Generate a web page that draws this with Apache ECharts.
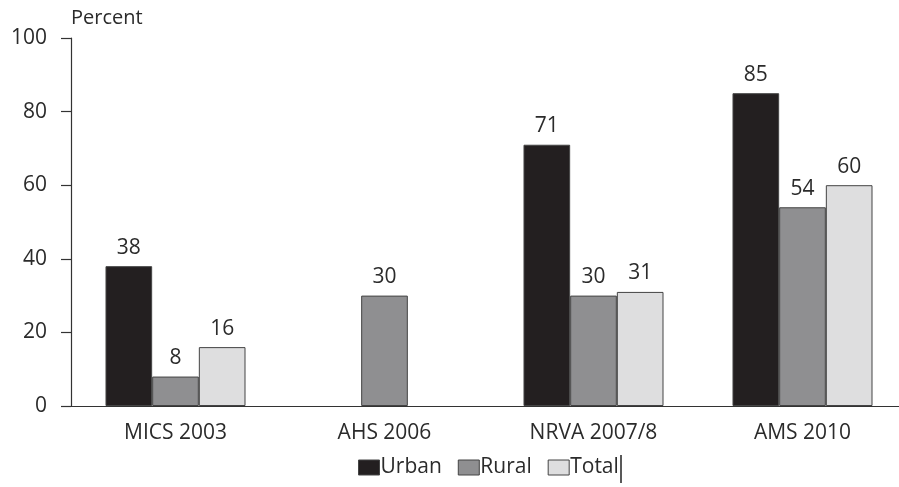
<!DOCTYPE html>
<html>
<head>
<meta charset="utf-8">
<script src="https://cdn.jsdelivr.net/npm/echarts@6/dist/echarts.min.js"></script>
<style>
  html, body { margin: 0; padding: 0; background: #fff; overflow: hidden; }
  #chart { width: 907px; height: 487px; }
</style>
</head>
<body>
<div id="chart"></div>
<script>
// Survey categories and access shares (percent)
const categories = ['MICS 2003', 'AHS 2006', 'NRVA 2007/8', 'AMS 2010'];
const urban = [38, null, 71, 85];
const rural = [8, 30, 30, 54];
const total = [16, null, 31, 60];
const yTicks = [0, 20, 40, 60, 80, 100];

const FONT = '"Open Sans", "DejaVu Sans", sans-serif';
const TEXT = '#2b2b2b';
const chart = echarts.init(document.getElementById('chart'), null, { renderer: 'canvas' });

function barSeries(name, data, color) {
  return {
    name: name,
    type: 'bar',
    data: data,
    barGap: '0%',
    barCategoryGap: '33%',
    itemStyle: { color: color, borderColor: '#444', borderWidth: 1 },
    label: {
      show: true,
      position: 'top',
      distance: 8,
      color: TEXT,
      fontFamily: FONT,
      fontSize: 21
    }
  };
}

chart.setOption({
  animation: false,
  grid: { left: 71, right: 0, top: 38, bottom: 81, containLabel: false },
  legend: {
    top: 457,
    left: 358,
    padding: 0,
    itemWidth: 21,
    itemHeight: 15,
    itemGap: 16,
    icon: 'rect',
    itemStyle: { borderColor: '#444', borderWidth: 1 },
    textStyle: { fontFamily: FONT, fontSize: 21, color: TEXT, padding: [0, 0, 0, -4] },
    data: ['Urban', 'Rural', 'Total']
  },
  xAxis: {
    type: 'category',
    data: categories,
    axisLine: { lineStyle: { color: '#333', width: 1.2 } },
    axisTick: { show: false },
    axisLabel: { fontFamily: FONT, fontSize: 21, color: TEXT, margin: 17 }
  },
  yAxis: {
    type: 'value',
    min: 0,
    max: 100,
    interval: 20,
    name: 'Percent',
    nameLocation: 'end',
    nameGap: 10,
    nameTextStyle: { fontFamily: FONT, fontSize: 20, color: TEXT, align: 'left', padding: [0, 0, 0, 0] },
    axisLine: { show: true, lineStyle: { color: '#333', width: 1.2 } },
    axisTick: { show: true, length: 10, lineStyle: { color: '#333', width: 1.2 } },
    splitLine: { show: false },
    axisLabel: {
      fontFamily: FONT, fontSize: 21, color: TEXT, margin: 24,
      formatter: v => yTicks.includes(v) ? String(v) : ''
    }
  },
  series: [
    barSeries('Urban', urban, '#231f20'),
    barSeries('Rural', rural, '#8f8f91'),
    barSeries('Total', total, '#dededf')
  ],
  // thin vertical rule closing the legend row
  graphic: [{
    type: 'line',
    shape: { x1: 621, y1: 455, x2: 621, y2: 483 },
    style: { stroke: '#222', lineWidth: 1.5 }
  }]
});
</script>
</body>
</html>
